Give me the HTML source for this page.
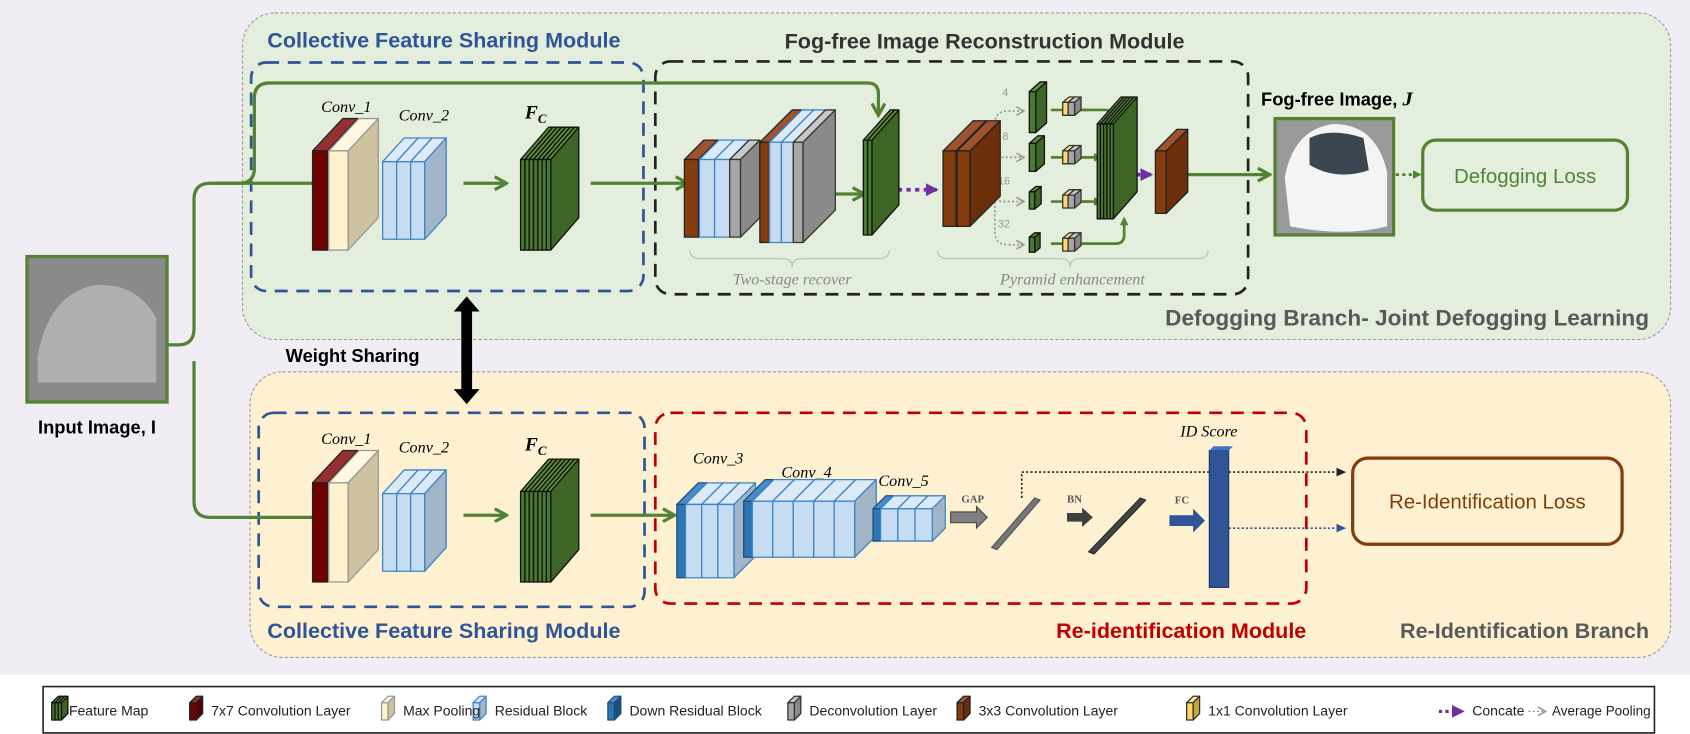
<!DOCTYPE html>
<html><head><meta charset="utf-8"><style>
html,body{margin:0;padding:0;background:#fff;}
svg{display:block}
.t{font-family:"Liberation Sans",sans-serif;}
.b{font-weight:bold}
.it{font-family:"Liberation Serif",serif;font-style:italic}
</style></head><body>
<svg id="s" width="1690" height="734" viewBox="0 0 1568 681" xmlns="http://www.w3.org/2000/svg">
<defs>
<marker id="ag" markerWidth="8" markerHeight="8" refX="6" refY="4" orient="auto" markerUnits="userSpaceOnUse"><path d="M0,0 L8,4 L0,8 Z" fill="#548235"/></marker>
<marker id="agl" markerWidth="14" markerHeight="14" refX="12" refY="7" orient="auto" markerUnits="userSpaceOnUse"><path d="M1,1 L12,7 L1,13" fill="none" stroke="#548235" stroke-width="3"/></marker>
<marker id="ap" markerWidth="12" markerHeight="12" refX="10" refY="6" orient="auto" markerUnits="userSpaceOnUse"><path d="M0,0 L12,6 L0,12 Z" fill="#7030a0"/></marker>
<marker id="agr" markerWidth="10" markerHeight="10" refX="8" refY="5" orient="auto" markerUnits="userSpaceOnUse"><path d="M1,1 L8,5 L1,9" fill="none" stroke="#999" stroke-width="1.5"/></marker>
<marker id="ak" markerWidth="10" markerHeight="10" refX="8" refY="5" orient="auto" markerUnits="userSpaceOnUse"><path d="M0,1 L9,5 L0,9 Z" fill="#222"/></marker>
<marker id="ab" markerWidth="10" markerHeight="10" refX="8" refY="5" orient="auto" markerUnits="userSpaceOnUse"><path d="M0,1 L9,5 L0,9 Z" fill="#2f5597"/></marker>
</defs>
<rect x="0" y="0" width="1568" height="626" fill="#f1edf5"/>
<rect x="225" y="12" width="1325" height="303" rx="30" fill="#e3efdc" stroke="#999" stroke-dasharray="3,2"/>
<rect x="232" y="345" width="1318" height="265" rx="30" fill="#fdf1d2" stroke="#999" stroke-dasharray="3,2"/>
<rect x="233" y="58" width="364" height="212" rx="14" fill="none" stroke="#2f5597" stroke-width="2.5" stroke-dasharray="12,8"/>
<rect x="608" y="57" width="550" height="216" rx="14" fill="none" stroke="#222" stroke-width="2.5" stroke-dasharray="12,8"/>
<rect x="240" y="383" width="358" height="180" rx="14" fill="none" stroke="#2f5597" stroke-width="2.5" stroke-dasharray="12,8"/>
<rect x="608" y="383" width="604" height="177" rx="14" fill="none" stroke="#c00000" stroke-width="2.5" stroke-dasharray="12,8"/>
<text x="248" y="44" class="t b" font-size="20" fill="#2f5597">Collective Feature Sharing Module</text>
<text x="728" y="45" class="t b" font-size="20" fill="#333">Fog-free Image Reconstruction Module</text>
<text x="1530" y="302" class="t b" font-size="21" fill="#595959" text-anchor="end">Defogging Branch- Joint Defogging Learning</text>
<text x="248" y="592" class="t b" font-size="20" fill="#2f5597">Collective Feature Sharing Module</text>
<text x="1212" y="592" class="t b" font-size="20" fill="#c00000" text-anchor="end">Re-identification Module</text>
<text x="1530" y="592" class="t b" font-size="20" fill="#595959" text-anchor="end">Re-Identification Branch</text>
<text x="265" y="336" class="t b" font-size="17" fill="#000">Weight Sharing</text>
<text x="90" y="402" class="t b" font-size="17" fill="#000" text-anchor="middle">Input Image, I</text>
<text x="1170" y="98" class="t b" font-size="17" fill="#000">Fog-free Image, <tspan class="it" font-size="19">J</tspan></text>
<g class="it" font-size="15" fill="#000">
<text x="298" y="104">Conv_1</text><text x="370" y="112">Conv_2</text>
<text x="487" y="110" font-weight="bold" font-size="18">F<tspan font-size="12" dy="4">C</tspan></text>
<text x="298" y="412">Conv_1</text><text x="370" y="420">Conv_2</text>
<text x="487" y="418" font-weight="bold" font-size="18">F<tspan font-size="12" dy="4">C</tspan></text>
<text x="643" y="430">Conv_3</text><text x="725" y="443">Conv_4</text><text x="815" y="451">Conv_5</text>
<text x="1095" y="405">ID Score</text>
</g>
<g font-family="Liberation Serif,serif" font-weight="bold" font-size="10" fill="#555">
<text x="892" y="466">GAP</text><text x="990" y="466">BN</text><text x="1090" y="467">FC</text>
</g>
<text x="735" y="264" class="it" font-size="15" fill="#888" text-anchor="middle">Two-stage recover</text>
<text x="995" y="264" class="it" font-size="15" fill="#888" text-anchor="middle">Pyramid enhancement</text>
<path d="M640,232 q0,8 10,8 h77 q8,0 8,8 q0,-8 8,-8 h72 q10,0 10,-8" fill="none" stroke="#bbb"/>
<path d="M870,232 q0,8 10,8 h105 q8,0 8,8 q0,-8 8,-8 h110 q10,0 10,-8" fill="none" stroke="#bbb"/>
<rect x="25" y="238" width="130" height="135" fill="#8a8a8a" stroke="#548235" stroke-width="3"/>
<path d="M35,330 q10,-55 50,-65 q40,-5 60,30 v60 h-110 z" fill="#b0b0b0"/>
<rect x="1183" y="110" width="110" height="108" fill="#9a9a9a" stroke="#548235" stroke-width="3"/>
<path d="M1192,165 q8,-45 45,-50 q40,0 50,45 v50 q-40,10 -90,0 z" fill="#f4f4f4"/>
<path d="M1215,128 q20,-10 50,0 l5,30 q-30,10 -55,-5 z" fill="#3a4650"/>
<rect x="1320" y="130" width="190" height="65" rx="12" fill="none" stroke="#548235" stroke-width="3"/>
<text x="1415" y="170" class="t" font-size="19" fill="#548235" text-anchor="middle">Defogging Loss</text>
<rect x="1255" y="425" width="250" height="80" rx="14" fill="none" stroke="#843c0c" stroke-width="3"/>
<text x="1380" y="472" class="t" font-size="19" fill="#843c0c" text-anchor="middle">Re-Identification Loss</text>
<g fill="none" stroke="#548235" stroke-width="3">
<path d="M155,320 h10 q15,0 15,-15 v-120 q0,-15 15,-15 h95"/>
<path d="M180,335 v130 q0,15 15,15 h95"/>
<path d="M200,170 h22 q14,0 14,-14 v-65 q0,-14 14,-14 h555 q10,0 10,10 v20" marker-end="url(#agl)"/>
<path d="M430,170 h40" marker-end="url(#agl)"/>
<path d="M548,170 h90" marker-end="url(#agl)"/>
<path d="M772,180 h30" marker-end="url(#agl)"/>
<path d="M1100,162 h78" marker-end="url(#agl)"/>
<path d="M430,478 h40" marker-end="url(#agl)"/>
<path d="M548,478 h78" marker-end="url(#agl)"/>
</g>
<g fill="none" stroke="#548235" stroke-width="2.5">
<path d="M975,102 h35"/><path d="M1005,102 h20 q8,0 8,8 v5" marker-end="url(#ag)"/>
<path d="M975,146 h35"/><path d="M1005,146 h16" marker-end="url(#ag)"/>
<path d="M975,187 h35"/><path d="M1005,187 h16" marker-end="url(#ag)"/>
<path d="M975,226 h35"/><path d="M1005,226 h30 q8,0 8,-8 v-15" marker-end="url(#ag)"/>
</g>
<g fill="none" stroke="#999" stroke-width="1.5" stroke-dasharray="2,2">
<path d="M915,175 h8 M923,175 v-60 q0,-12 12,-12 h15" marker-end="url(#agr)"/>
<path d="M923,150 q0,-4 8,-4 h19" marker-end="url(#agr)"/>
<path d="M923,180 q0,7 8,7 h19" marker-end="url(#agr)"/>
<path d="M923,175 v40 q0,12 12,12 h15" marker-end="url(#agr)"/>
</g>
<g font-family="Liberation Sans,sans-serif" font-size="10" fill="#999">
<text x="930" y="89">4</text><text x="930" y="130">8</text><text x="926" y="171">16</text><text x="926" y="211">32</text>
</g>
<path d="M833,176 h36" stroke="#7030a0" stroke-width="3.5" stroke-dasharray="4,4" fill="none" marker-end="url(#ap)"/>
<path d="M1055,162 h13" stroke="#7030a0" stroke-width="3.5" stroke-dasharray="3,3" fill="none" marker-end="url(#ap)"/>
<path d="M1295,162 h22" stroke="#548235" stroke-width="2.5" stroke-dasharray="3,3" fill="none" marker-end="url(#ag)"/>
<path d="M948,462 v-24 h300" stroke="#222" stroke-width="1.5" stroke-dasharray="2,2" fill="none" marker-end="url(#ak)"/>
<path d="M1140,490 h108" stroke="#2f5597" stroke-width="1.5" stroke-dasharray="2,2" fill="none" marker-end="url(#ab)"/>
<path d="M433,275 l-12,14 h7 v72 h-7 l12,14 l12,-14 h-7 v-72 h7 z" fill="#000"/>
<path d="M882,475 h24 v-5 l10,10 l-10,10 v-5 h-24 z" fill="#808080" stroke="#444"/>
<path d="M990,476 h14 v-5 l10,9 l-10,9 v-5 h-14 z" fill="#404040"/>
<path d="M1085,478 h22 v-6 l11,11 l-11,11 v-6 h-22 z" fill="#2f5597"/>
<path d="M920,508 l40,-46 l5,2 l-40,46 z" fill="#777" stroke="#555"/>
<path d="M1010,512 l48,-50 l5,2 l-48,50 z" fill="#444" stroke="#222"/>
<rect x="1122" y="418" width="18" height="127" fill="#2f5597" stroke="#1f3864"/>
<path d="M1122,418 l4,-4 h18 l-4,4 z" fill="#4472c4"/>
<g id="blocks"></g>
<rect x="40" y="637" width="1495" height="43" fill="#fff" stroke="#222" stroke-width="1.5"/>
<g id="leg"></g>
<g class="t" font-size="13" fill="#222">
<text x="64" y="664">Feature Map</text>
<text x="196" y="664">7x7 Convolution Layer</text>
<text x="374" y="664">Max Pooling</text>
<text x="459" y="664">Residual Block</text>
<text x="584" y="664">Down Residual Block</text>
<text x="751" y="664">Deconvolution  Layer</text>
<text x="908" y="664">3x3 Convolution Layer</text>
<text x="1121" y="664">1x1 Convolution Layer</text>
<text x="1366" y="664">Concate</text>
<text x="1440" y="664" font-size="12.5">Average Pooling</text>
</g>
<path d="M1335,660 h22" stroke="#7030a0" stroke-width="3" stroke-dasharray="3,3" marker-end="url(#ap)"/>
<path d="M1418,660 h16" stroke="#999" stroke-width="1.2" stroke-dasharray="2,2" marker-end="url(#agr)"/>
</svg>
<script>
var NS="http://www.w3.org/2000/svg",G=document.getElementById("blocks"),L=document.getElementById("leg");
function P(g,pts,f,s){var p=document.createElementNS(NS,"polygon");p.setAttribute("points",pts.map(function(a){return a.join(",")}).join(" "));p.setAttribute("fill",f);p.setAttribute("stroke",s);p.setAttribute("stroke-width","1.2");p.setAttribute("stroke-linejoin","round");g.appendChild(p);}
function box(x,y,w,h,dx,dy,f,t,sd,s,g){g=g||G;
P(g,[[x,y],[x+dx,y-dy],[x+w+dx,y-dy],[x+w,y]],t,s);
P(g,[[x+w,y],[x+w+dx,y-dy],[x+w+dx,y+h-dy],[x+w,y+h]],sd,s);
P(g,[[x,y],[x+w,y],[x+w,y+h],[x,y+h]],f,s);}
var RD=["#6e0000","#953030","#5a0000","#222"],CR=["#fff2cc","#fff8e0","#cfc2a0","#999"],LB=["#c6dcf2","#dceaf8","#a3b5c8","#3d85c6"],DB=["#2e75b6","#4a8ccc","#1f4e79","#1f4e79"],GR=["#4a7a2e","#5c8e3c","#3d6626","#111"],BR=["#843c0c","#a0522d","#6b300a","#222"],GY=["#a6a6a6","#c8c8c8","#8a8a8a","#333"],YL=["#ffd966","#ffe699","#c9a93a","#333"];
function B(x,y,w,h,dx,dy,c,g){box(x,y,w,h,dx,dy,c[0],c[1],c[2],c[3],g);}
function branch(o){
 B(290,140+o,14,92,28,30,RD);B(305,140+o,18,92,28,30,CR);
 for(var i=0;i<3;i++)B(355+i*13,150+o,13,72,20,22,LB);
 for(var i=0;i<7;i++)B(483+i*4,148+o,4,84,26,30,GR);
}
branch(0);branch(308);
B(635,148,13,72,18,18,BR);for(var i=0;i<2;i++)B(649+i*14,148,14,72,18,18,LB);B(677,148,10,72,18,18,GY);
B(705,132,9,93,30,30,BR);for(var i=0;i<2;i++)B(714+i*11,132,11,93,30,30,LB);B(736,132,9,93,30,30,GY);
B(801,130,4,88,25,28,GR);B(805,130,4,88,25,28,GR);
B(875,140,12,70,28,28,BR);B(888,140,12,70,28,28,BR);
B(955,85,6,38,10,9,GR);B(955,133,6,26,8,7,GR);B(955,178,5,16,6,5,GR);B(955,220,5,14,5,4,GR);
[95,140,181,221].forEach(function(y){B(986,y,5,12,6,5,YL);B(991,y,6,12,6,5,GY);});
for(var i=0;i<5;i++)B(1018+i*3,115,3,88,22,25,GR);
B(1072,140,10,58,20,20,BR);
B(628,468,8,68,20,20,DB);for(var i=0;i<3;i++)B(636+i*15,468,15,68,20,20,LB);
B(690,465,8,52,20,20,DB);for(var i=0;i<5;i++)B(698+i*19,465,19,52,20,20,LB);
B(810,472,7,30,12,12,DB);for(var i=0;i<3;i++)B(817+i*16,472,16,30,12,12,LB);
[[176,RD],[354,CR],[439,LB],[564,DB],[731,GY],[888,BR],[1101,YL]].forEach(function(a){B(a[0],652,6,16,6,6,a[1],L);});
B(48,652,3,16,6,6,GR,L);B(51,652,3,16,6,6,GR,L);B(54,652,3,16,6,6,GR,L);
</script>
</body></html>
